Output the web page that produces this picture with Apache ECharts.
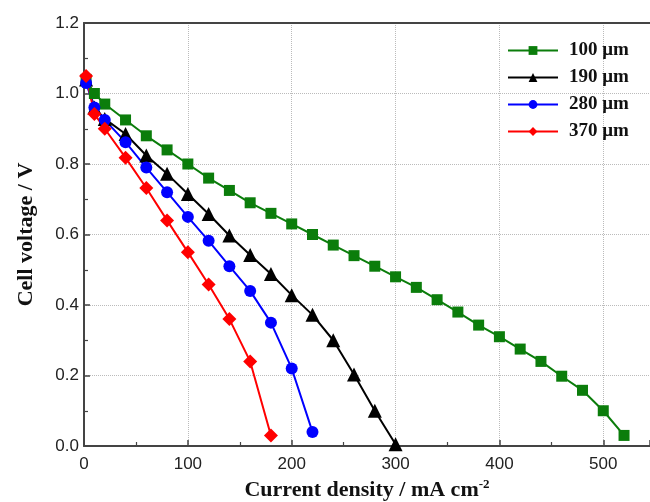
<!DOCTYPE html>
<html>
<head>
<meta charset="utf-8">
<script src="https://cdn.jsdelivr.net/npm/echarts@6/dist/echarts.min.js"></script>
<style>html,body{margin:0;padding:0;background:#fff;}#c{width:650px;height:502px;}</style>
</head>
<body>
<div id="c"></div>
<script>
const seriesNames = ['100 \u03bcm', '190 \u03bcm', '280 \u03bcm', '370 \u03bcm'];
const xTicks = [0, 100, 200, 300, 400, 500];
const yTicks = [0.0, 0.2, 0.4, 0.6, 0.8, 1.0, 1.2];
const s100 = [[2,1.04],[10,1.0],[20,0.97],[40,0.925],[60,0.88],[80,0.84],[100,0.80],[120,0.76],[140,0.725],[160,0.69],[180,0.66],[200,0.63],[220,0.60],[240,0.57],[260,0.54],[280,0.51],[300,0.48],[320,0.45],[340,0.415],[360,0.38],[380,0.343],[400,0.31],[420,0.275],[440,0.24],[460,0.198],[480,0.158],[500,0.10],[520,0.03]];
const s190 = [[2,1.04],[10,0.96],[20,0.928],[40,0.885],[60,0.824],[80,0.772],[100,0.715],[120,0.658],[140,0.597],[160,0.542],[180,0.488],[200,0.428],[220,0.372],[240,0.30],[260,0.203],[280,0.10],[300,0.005]];
const s280 = [[2,1.03],[10,0.96],[20,0.925],[40,0.862],[60,0.79],[80,0.72],[100,0.65],[120,0.582],[140,0.51],[160,0.44],[180,0.35],[200,0.22],[220,0.04]];
const s370 = [[2,1.05],[10,0.942],[20,0.90],[40,0.818],[60,0.732],[80,0.64],[100,0.55],[120,0.458],[140,0.36],[160,0.24],[180,0.03]];

const chart = echarts.init(document.getElementById('c'));
const mk = (name, data, color, symbol, size) => ({
  name, type: 'line', data, symbol, symbolSize: size,
  lineStyle: {color, width: 2}, itemStyle: {color}, emphasis: {disabled: true}
});
chart.setOption({
  animation: false,
  grid: {left: 84, right: 0, top: 23, bottom: 56, show: false, outerBoundsMode: 'none', containLabel: false},
  legend: {
    orient: 'vertical', left: 507, top: 41, padding: 0, itemWidth: 50, itemHeight: 11, itemGap: 8,
    data: seriesNames,
    textStyle: {fontFamily: 'Liberation Serif', fontWeight: 'bold', fontSize: 19, color: '#111', padding: [0,0,0,6]}
  },
  xAxis: [{
    type: 'value', min: 0, max: 545, interval: 100,
    axisLine: {show: true, lineStyle: {color: '#444', width: 2}},
    axisTick: {show: true, inside: true, length: 6, lineStyle: {color: '#444', width: 1.5}},
    minorTick: {show: true, splitNumber: 2, length: 4, lineStyle: {color: '#444', width: 1.2}},
    splitLine: {show: true, lineStyle: {color: '#bbb', type: 'dotted', width: 1}},
    axisLabel: {fontFamily: 'Liberation Sans', fontSize: 17, color: '#222', margin: 10,
      formatter: v => xTicks.includes(v) ? String(v) : ''},
    name: 'Current density / mA cm{sup|-2}', nameLocation: 'middle', nameGap: 32,
    nameTextStyle: {fontFamily: 'Liberation Serif', fontWeight: 'bold', fontSize: 22, color: '#111',
      rich: {sup: {fontFamily: 'Liberation Serif', fontWeight: 'bold', fontSize: 13, verticalAlign: 'top', padding: [0,0,12,0], color: '#111'}}}
  }, {
    type: 'value', position: 'top', min: 0, max: 545,
    axisLine: {show: true, onZero: false, lineStyle: {color: '#444', width: 2}},
    axisTick: {show: false}, axisLabel: {show: false}, splitLine: {show: false}
  }],
  yAxis: {
    type: 'value', min: 0, max: 1.2, interval: 0.2,
    axisLine: {show: true, lineStyle: {color: '#444', width: 2}},
    axisTick: {show: true, inside: true, length: 6, lineStyle: {color: '#444', width: 1.5}},
    minorTick: {show: true, splitNumber: 2, length: 4, lineStyle: {color: '#444', width: 1.2}},
    splitLine: {show: true, lineStyle: {color: '#bbb', type: 'dotted', width: 1}},
    axisLabel: {fontFamily: 'Liberation Sans', fontSize: 17, color: '#222', margin: 5,
      formatter: v => v.toFixed(1)},
    name: 'Cell voltage / V', nameLocation: 'middle', nameGap: 47,
    nameTextStyle: {fontFamily: 'Liberation Serif', fontWeight: 'bold', fontSize: 22, color: '#111'}
  },
  series: [
    mk(seriesNames[0], s100, '#0b7d0b', 'rect', 11),
    mk(seriesNames[1], s190, '#000000', 'triangle', 14),
    mk(seriesNames[2], s280, '#0000ff', 'circle', 12),
    mk(seriesNames[3], s370, '#ff0000', 'diamond', 14)
  ]
});
</script>
</body>
</html>
